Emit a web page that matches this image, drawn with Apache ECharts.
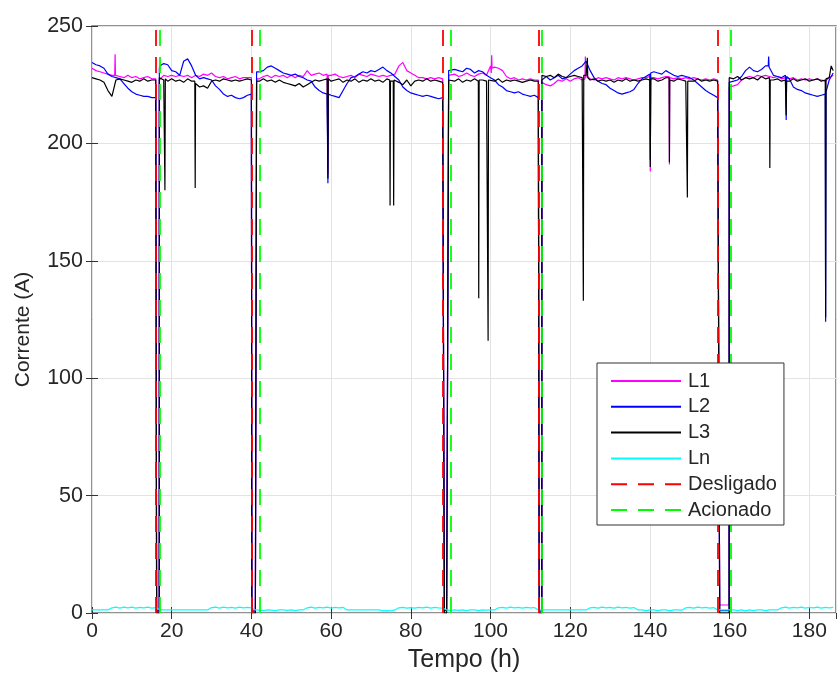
<!DOCTYPE html>
<html>
<head>
<meta charset="utf-8">
<script src="https://cdn.jsdelivr.net/npm/echarts@6/dist/echarts.min.js"></script>
<style>
html,body{margin:0;padding:0;background:#fff;}
#chart{width:837px;height:682px;}
</style>
</head>
<body>
<div id="chart"></div>
<script>
// Hourly readings, t = 0 .. 186 h
const L1 = [
 232,231,230.5,230,229.5,229,229,228.5,228,229,
 228,228.5,227.5,228,228.5,227.5,227.5,227,229,228.5,
 229,228.5,229,228.5,229,228,229,228.5,229.5,229,
 230,228.5,228,228.5,227.5,228,228.5,227.5,228,228,
 228,1.2,227.5,228.5,229,228,229,228.5,229,228,
 229,228,229,228.5,231,229,229.5,230,229,229.5,
 229,229.5,228.5,228,228.5,229,228,229.5,229,228.5,
 229.5,229,228.5,229,228.5,229,229.5,233,234.5,231,
 230,229,228,228,227.5,228,227.5,228,227.5,1.2,
 229,229.5,228.5,229,230,229,228.5,229.5,230,229,
 233,232.5,232,231,228.5,227.5,228,227,227.5,227,
 227.5,227,227,226,225,224.5,225.5,227,226.5,227.5,
 226.5,227.5,228,227,229,227.5,227,228,227.5,228,
 227.5,227,228,227.5,228,227.5,227,227.5,228,228,
 228.5,228,227.5,228,228.5,228,227.5,228,227.5,228,
 227.5,228,227.5,227,227.5,227,227.5,227,3.4,3.4,
 224,224.5,225,227,228,228.5,228,229,228.5,229,
 228.5,228,228.5,227.5,228,227.5,228,227,227.5,227,
 227.5,227,227.5,227,226.5,228,229
];
const L2 = [
 234.5,233.5,233,232,229.5,228.5,228,227.5,225.5,223.5,
 222,221,220.5,220,220,219.5,219.5,233,234,233.5,
 231,230.5,229,235,236,233,229,227.5,228,227.5,
 227,224.5,223,221,220,220.5,219.5,219,219.5,220.5,
 221,0.8,230.5,231,232.5,233,232,231,230,229.5,
 229,229.5,228.5,228,227,226.5,224,222.5,221.5,221,
 220.5,220,219.5,222.5,225.5,228,228.5,229.5,230.5,230,
 231,230.5,231.5,232.5,231,230,228.5,227,224,222.5,
 221.5,221,220.5,220,220.5,220,219.5,219,219.5,1,
 231,231.5,231,230.5,232,231.5,230,231,230.5,229,
 228,227,225,224,222.5,222,221.5,222,221,220.5,
 220,220.5,219.5,227.5,228.5,227,228,229,227.5,228,
 229.5,231,232,233,235,231,228,226.5,225.5,225,
 223.5,222.5,221.5,221,221.5,222,223,225.5,227.5,228.5,
 229.5,230.5,230,229.5,231,230,229,228.5,229,228.5,
 228,227,225.5,224,222.5,221.5,220.5,219.5,1,1,
 226,226.5,227,228.5,231,232.5,231,230.5,231.5,233,
 232,229,228.5,228,229,227.5,224,223,222.5,221.5,
 221,220.5,220,220.5,221,227,230
];
const L3 = [
 228,227.5,227,226,222.5,220,227,227.5,227,226.5,
 226,227,226.5,227.5,226.5,227,227,228,227,226.5,
 227.5,226.5,227,226,227.5,226.5,225,224,224.5,223.5,
 226.5,227,226.5,227.5,227,226.5,227,226.5,227,227.5,
 227,0,226.5,227.5,226.5,227,226,227,226,225.5,
 225,224.5,225.5,224,225,226,227,226.5,227,227.5,
 226.5,227,227.5,226,227,226.5,227.5,226,227,226.5,
 227.5,226.5,227,226,227.5,226.5,227,226,225,227,
 224.5,226.5,227,226.5,227.5,226.5,227,226.5,226,0,
 227,226.5,227.5,226,227,226.5,227.5,226.5,227,226.5,
 227,226.5,227.5,226,227,226.5,227,226.5,226,226.5,
 227,226.5,226.5,229,228.5,229,228,229.5,228.5,228,
 228.5,229,228.5,228,229,227,227.5,226.5,227,226.5,
 227,226,227,226.5,227.5,226.5,227,226.5,227,227.5,
 227,227.5,226.5,227,228,227,226.5,227.5,227,226.5,
 227,226.5,227.5,226.5,227,226.5,227,226.5,0,0,
 228,227.5,228.5,227,228,227.5,228,227,228.5,227.5,
 228,227,227.5,226.5,227,226.5,227.5,226.5,227,227.5,
 226.5,227,227.5,226.5,227,228,231
];
const Ln = [
 1.3,1.3,1.3,1.3,1.3,2.2,2.5,2.1,2.5,2.2,
 2.5,2.1,2.4,2.2,2.5,2.1,2.3,1.4,1.3,1.3,
 1.3,1.3,1.3,1.3,1.3,1.3,1.3,1.3,1.3,1.3,
 2.3,2.5,2.1,2.5,2.2,2.4,2.1,2.5,2.2,2.4,
 2.2,1.3,1.2,1.0,1.3,1.2,1.0,1.3,1.3,1.1,
 1.3,1.0,1.3,1.3,2.2,2.5,2.1,2.4,2.2,2.5,
 2.1,2.4,2.2,2.4,1.3,1.3,1.3,1.3,1.3,1.3,
 1.3,1.3,1.3,0.9,1.0,0.9,1.3,2.2,2.4,2.1,
 2.3,2.1,2.4,2.2,2.5,2.1,2.4,2.2,2.1,1.3,
 1.0,1.3,1.1,1.3,1.0,1.3,1.3,1.0,1.3,1.2,
 1.3,1.3,2.2,2.4,2.1,2.5,2.2,2.4,2.1,2.4,
 2.2,2.3,1.3,1.3,1.3,1.3,1.3,1.3,1.3,1.3,
 1.3,1.3,1.3,1.3,1.3,2.2,2.4,2.1,2.5,2.2,
 2.4,2.1,2.5,2.2,2.4,2.1,2.3,1.3,1.3,1.0,
 1.3,1.3,1.0,1.3,1.3,0.9,1.3,1.3,1.2,2.2,
 2.4,2.1,2.5,2.2,2.4,2.1,2.3,1.3,1.3,1.3,
 1.3,1.3,1.0,1.3,0.9,1.3,1.0,1.3,1.3,1.0,
 1.3,1.3,1.3,2.2,2.5,2.1,2.4,2.2,2.5,2.1,
 2.4,2.2,2.5,2.1,2.4,2.2,2.4
];

// Extra readings [t, value] : switching edges and short spikes
const extraL1 = [
 [5.7,229],[5.8,238],[5.9,229],
 [16.2,227.5],[16.22,1.2],[16.88,1.2],[16.9,227],
 [40.1,228],[40.12,1.2],[41.28,1.2],[41.3,227.5],
 [59.1,229.5],[59.2,187],[59.3,229],
 [88.4,227.5],[88.42,1.2],[89.48,1.2],[89.5,229],
 [100.2,230],[100.3,237.5],[100.4,232],
 [112.2,227],[112.22,1.2],[112.88,1.2],[112.9,226],
 [123.7,227.5],[123.8,237],[123.9,228],
 [140.02,228.5],[140.1,188],[140.2,228],
 [144.82,228.5],[144.9,191],[144.98,228],
 [157.5,227],[157.52,3.4],[159.88,3.4],[159.9,224]
];
const extraL2 = [
 [16.2,219.5],[16.22,0.8],[16.88,0.8],[16.9,232],
 [40.1,221],[40.12,0.8],[41.28,0.8],[41.3,230.5],
 [59.1,221],[59.2,183],[59.3,221],
 [88.4,219.5],[88.42,1],[89.48,1],[89.5,231],
 [112.2,219.5],[112.22,0.8],[112.88,0.8],[112.9,227],
 [140.02,229.5],[140.1,193],[140.2,230],
 [157.5,219.5],[157.52,1],[159.88,1],[159.9,226],
 [169.7,233],[169.8,237],[169.9,232.5],
 [174.1,229],[174.2,210],[174.3,228.5],
 [184.02,221],[184.1,124],[184.2,222]
];
const extraL3 = [
 [16.2,227],[16.22,0],[16.88,0],[16.9,228],
 [18.2,227],[18.3,180],[18.4,227.5],
 [25.8,226.5],[25.9,181],[25.98,225.5],
 [40.1,227],[40.12,0],[41.28,0],[41.3,226.5],
 [59.1,227],[59.2,185],[59.3,227.5],
 [74.7,227],[74.8,173.5],[74.9,226.5],
 [75.6,226.5],[75.7,173.5],[75.8,227],
 [88.4,226],[88.42,0],[89.48,0],[89.5,227],
 [96.95,226.5],[97.05,134],[97.15,227],
 [99.3,226.5],[99.4,116],[99.5,227],
 [112.2,226.5],[112.22,0],[112.88,0],[112.9,229],
 [123.2,228],[123.3,133],[123.4,229],
 [124.2,229],[124.3,236.5],[124.4,228],
 [140.02,227],[140.1,190],[140.2,227.5],
 [144.82,228],[144.9,192],[144.98,227],
 [149.3,227],[149.4,177],[149.5,226.5],
 [157.5,226.5],[157.52,0],[159.88,0],[159.9,228],
 [170.02,228],[170.1,189.5],[170.2,227],
 [174.1,227],[174.2,212],[174.3,226.5],
 [184.02,227],[184.1,126],[184.2,227.5],
 [185.5,233]
];

const desligado = [16.0, 40.0, 88.0, 112.1, 157.1];
const acionado  = [17.0, 42.1, 89.9, 112.9, 160.2];

const xTicks = [0, 20, 40, 60, 80, 100, 120, 140, 160, 180];
const yTicks = [0, 50, 100, 150, 200, 250];

function serie(base, extra) {
  const pts = base.map((v, i) => [i, v]).concat(extra || []);
  pts.sort((a, b) => a[0] - b[0]);
  return pts;
}

const FONT = 'Liberation Sans, Arial, Helvetica, sans-serif';
const TXT = '#262626';
const X_MAX = 186.7;

const chart = echarts.init(document.getElementById('chart'), null, {renderer: 'canvas'});

function lineSeries(name, data, color) {
  return {
    name: name, type: 'line', data: data, xAxisIndex: 0, yAxisIndex: 0,
    showSymbol: false, symbol: 'none', silent: true, z: 2,
    lineStyle: {color: color, width: 1.2}, itemStyle: {color: color},
    emphasis: {disabled: true}
  };
}
function dashSeries(name, times, color) {
  return {
    name: name, type: 'line', data: [], xAxisIndex: 0, yAxisIndex: 0,
    symbol: 'none', silent: true, z: 3,
    lineStyle: {color: color, width: 1.8, type: [16, 11]}, itemStyle: {color: color},
    markLine: {
      symbol: 'none', silent: true, animation: false,
      label: {show: false},
      lineStyle: {color: color, width: 1.8, type: [16, 11]},
      emphasis: {disabled: true},
      data: times.map(t => ({xAxis: t}))
    }
  };
}

const option = {
  animation: false,
  backgroundColor: '#ffffff',
  textStyle: {fontFamily: FONT},
  grid: {left: 92, top: 26, right: 1, bottom: 69, show: true, borderColor: '#6e6e6e', borderWidth: 1.5, backgroundColor: '#fff'},
  xAxis: [{
    type: 'value', min: 0, max: X_MAX, interval: 20, position: 'bottom',
    name: 'Tempo (h)', nameLocation: 'middle', nameGap: 35,
    nameTextStyle: {fontFamily: FONT, fontSize: 25, color: TXT},
    axisLine: {show: false},
    axisTick: {show: true, inside: true, length: 6, lineStyle: {color: '#333', width: 1}},
    axisLabel: {show: true, margin: 8, fontFamily: FONT, fontSize: 21, color: TXT, showMaxLabel: false,
      formatter: v => xTicks.indexOf(v) >= 0 ? String(v) : ''},
    splitLine: {show: true, lineStyle: {color: '#e3e3e3', width: 1}}
  }, {
    type: 'value', min: 0, max: X_MAX, interval: 20, position: 'top',
    axisLine: {show: false},
    axisTick: {show: true, inside: true, length: 6, lineStyle: {color: '#333', width: 1}},
    axisLabel: {show: false}, splitLine: {show: false}
  }],
  yAxis: [{
    type: 'value', min: 0, max: 250, interval: 50, position: 'left',
    name: 'Corrente (A)', nameLocation: 'middle', nameGap: 58, nameRotate: 90,
    nameTextStyle: {fontFamily: FONT, fontSize: 21, color: TXT, padding: [0, 20, 0, 0]},
    axisLine: {show: false},
    axisTick: {show: true, inside: true, length: 6, lineStyle: {color: '#333', width: 1}},
    axisLabel: {show: true, margin: 9, fontFamily: FONT, fontSize: 21.5, color: TXT,
      formatter: v => yTicks.indexOf(v) >= 0 ? String(v) : ''},
    splitLine: {show: true, lineStyle: {color: '#e3e3e3', width: 1}}
  }, {
    type: 'value', min: 0, max: 250, interval: 50, position: 'right',
    axisLine: {show: false},
    axisTick: {show: true, inside: true, length: 6, lineStyle: {color: '#333', width: 1}},
    axisLabel: {show: false}, splitLine: {show: false}
  }],
  legend: {
    orient: 'vertical', left: 597, top: 363, z: 20, zlevel: 0,
    padding: [8, 7, 5, 13], itemGap: 5.8, itemWidth: 70, itemHeight: 16,
    backgroundColor: '#ffffff', borderColor: '#333', borderWidth: 1,
    selectedMode: false,
    itemStyle: {color: 'rgba(0,0,0,0)', borderColor: 'rgba(0,0,0,0)', borderWidth: 0, opacity: 0},
    textStyle: {fontFamily: FONT, fontSize: 20, color: TXT, padding: [0, 0, 0, 2]},
    data: ['L1', 'L2', 'L3', 'Ln', 'Desligado', 'Acionado']
  },
  series: [
    lineSeries('L1', serie(L1, extraL1), '#ff00ff'),
    lineSeries('L2', serie(L2, extraL2), '#0000ff'),
    lineSeries('L3', serie(L3, extraL3), '#000000'),
    lineSeries('Ln', serie(Ln, []), '#00ffff'),
    dashSeries('Desligado', desligado, '#ff0000'),
    dashSeries('Acionado', acionado, '#00ff00')
  ]
};
chart.setOption(option);
</script>
</body>
</html>
